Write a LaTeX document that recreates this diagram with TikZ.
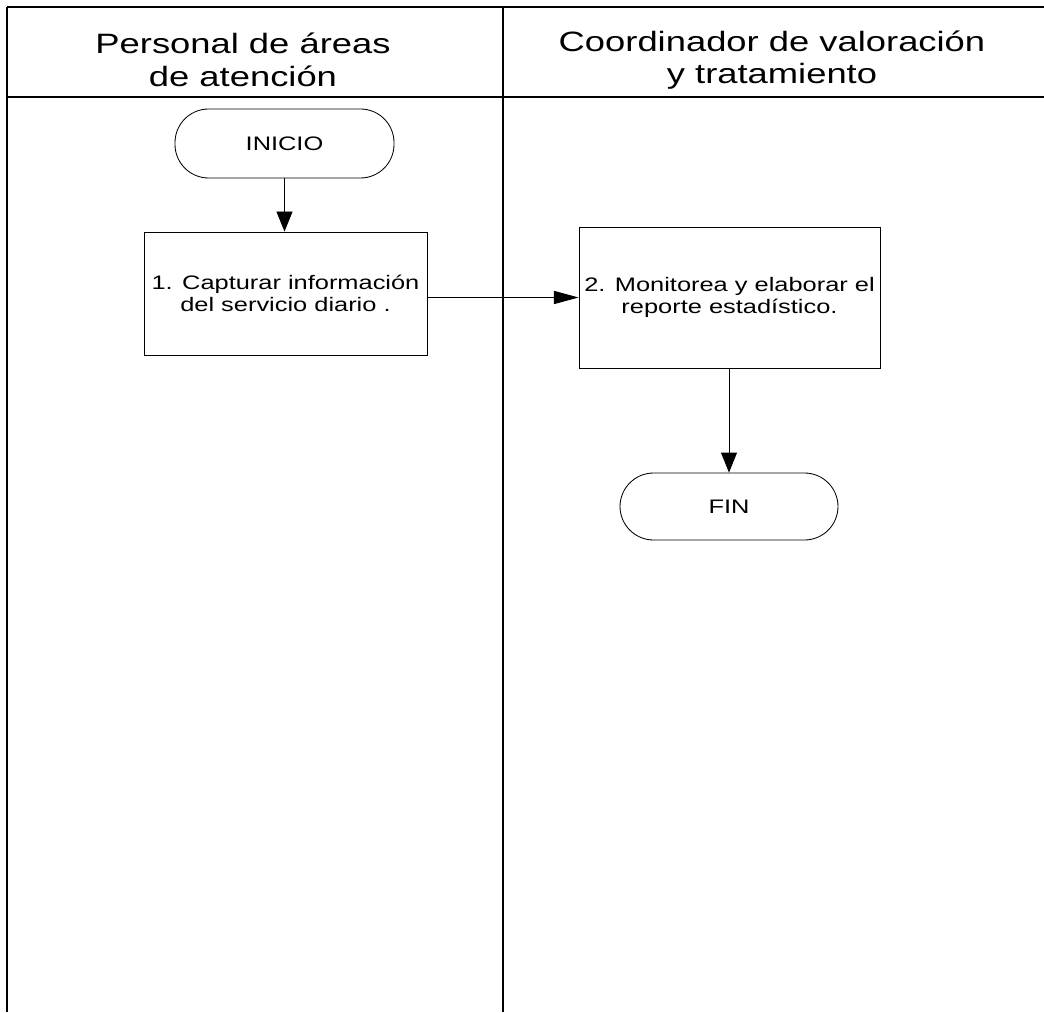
\documentclass[tikz,border=0pt]{standalone}
\usepackage{fontspec}
\setmainfont[FakeStretch=1.3]{Liberation Sans}
\usetikzlibrary{arrows.meta}

\tikzset{
  carril/.style={line width=1.3pt},
  terminal/.style={draw, line width=0.6pt, rounded corners=0.84cm, align=center,
    font=\fontsize{13.9}{15.6}\selectfont},
  proceso/.style={draw, line width=0.6pt, align=center,
    font=\fontsize{13.9}{15.6}\selectfont},
  titulo/.style={align=center, font=\fontsize{19.9}{23.1}\selectfont},
  flecha/.style={line width=0.6pt, -{Triangle[length=0.5cm, width=0.4cm]}},
  flechah/.style={line width=0.6pt, -{Triangle[length=0.62cm, width=0.33cm]}}
}

\begin{document}
\begin{tikzpicture}

\useasboundingbox (0,0) rectangle (26.1,25.3);

\draw [carril] (0.175,0) -- (0.175,25.125);
\draw [carril] (12.575,0) -- (12.575,25.125);
\draw [carril] (0.175,25.125) -- (26.1,25.125);
\draw [carril] (0.175,22.875) -- (26.1,22.875);

\node [titulo] (personal) at (6.075,23.8) {Personal de áreas\\de atención};
\node [titulo] (coordinador) at (19.3,23.8) {Coordinador de valoración\\y tratamiento};

\node [terminal, minimum width=5.475cm, minimum height=1.725cm] (inicio) at (7.1125,21.7125) {INICIO};
\node [proceso, minimum width=7.075cm, minimum height=3.075cm] (captura) at (7.1375,17.9625) {1. Capturar información\\del servicio diario .};
\node [proceso, minimum width=7.525cm, minimum height=3.525cm] (reporte) at (18.2375,17.8625) {2. Monitorea y elaborar el\\reporte estadístico.};
\node [terminal, minimum width=5.45cm, minimum height=1.675cm] (fin) at (18.225,12.6375) {FIN};

\draw [flecha] (inicio.south) -- (inicio.south |- captura.north);
\draw [flechah] (captura.east |- reporte.west) -- (reporte.west);
\draw [flecha] (reporte.south -| fin.north) -- (fin.north);

\end{tikzpicture}
\end{document}
